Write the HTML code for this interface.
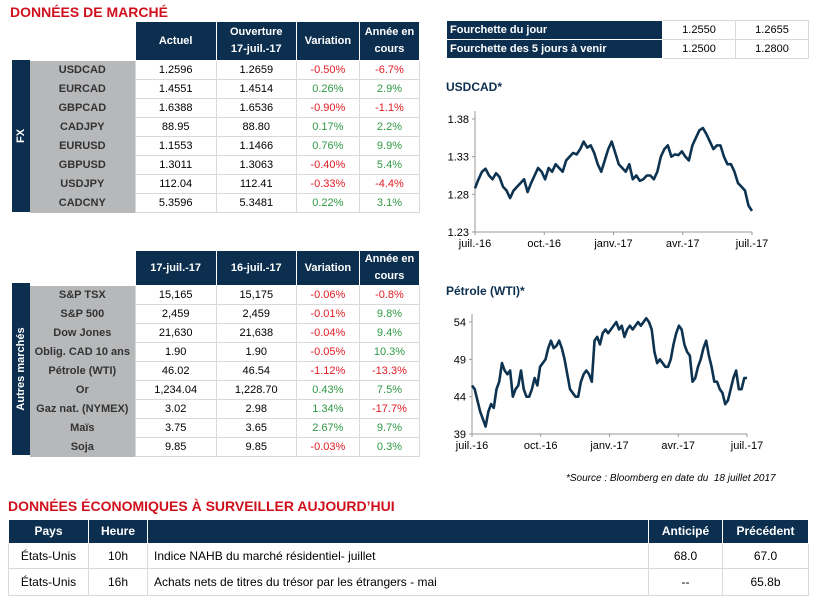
<!DOCTYPE html>
<html><head><meta charset="utf-8">
<style>
body{margin:0;width:816px;height:606px;background:#fff;font-family:"Liberation Sans",sans-serif;position:relative;overflow:hidden}
.abs{position:absolute}
table{border-collapse:collapse;table-layout:fixed;font-size:11px}
td{border:1px solid #d9d9d9;text-align:center;padding:0;height:18px}
th{background:#0c2f4f;color:#fff;font-weight:bold;border:1px solid #fff;font-size:11px;padding:0;line-height:17px}
.lab{background:#b7b8ba;color:#333;font-weight:bold;border:none}
.r{color:#e31b23}.g{color:#2f9a45}
.title{color:#d0101c;font-weight:bold;font-size:14px}
.strip{background:#0c2f4f;color:#fff;font-weight:bold;font-size:11px}
</style></head><body>
<div class="abs title" style="left:10px;top:4px">DONNÉES DE MARCHÉ</div>

<div class="abs strip" style="left:12px;top:60px;width:18px;height:152px"><div style="position:absolute;left:50%;top:50%;transform:translate(-50%,-50%) rotate(-90deg)">FX</div></div>
<table class="abs" style="left:30px;top:21px;width:390px">
<colgroup><col style="width:105px"><col style="width:81px"><col style="width:80px"><col style="width:63px"><col style="width:60px"></colgroup>
<tr style="height:39px"><th style="background:#fff;border:none"></th><th>Actuel</th><th>Ouverture<br>17-juil.-17</th><th>Variation</th><th>Année en<br>cours</th></tr>
<tr><td class="lab">USDCAD</td><td>1.2596</td><td>1.2659</td><td class="r">-0.50%</td><td class="r">-6.7%</td></tr>
<tr><td class="lab">EURCAD</td><td>1.4551</td><td>1.4514</td><td class="g">0.26%</td><td class="g">2.9%</td></tr>
<tr><td class="lab">GBPCAD</td><td>1.6388</td><td>1.6536</td><td class="r">-0.90%</td><td class="r">-1.1%</td></tr>
<tr><td class="lab">CADJPY</td><td>88.95</td><td>88.80</td><td class="g">0.17%</td><td class="g">2.2%</td></tr>
<tr><td class="lab">EURUSD</td><td>1.1553</td><td>1.1466</td><td class="g">0.76%</td><td class="g">9.9%</td></tr>
<tr><td class="lab">GBPUSD</td><td>1.3011</td><td>1.3063</td><td class="r">-0.40%</td><td class="g">5.4%</td></tr>
<tr><td class="lab">USDJPY</td><td>112.04</td><td>112.41</td><td class="r">-0.33%</td><td class="r">-4.4%</td></tr>
<tr><td class="lab">CADCNY</td><td>5.3596</td><td>5.3481</td><td class="g">0.22%</td><td class="g">3.1%</td></tr>
</table>

<div class="abs strip" style="left:12px;top:283px;width:18px;height:172px"><div style="position:absolute;left:50%;top:50%;transform:translate(-50%,-50%) rotate(-90deg);white-space:nowrap">Autres marchés</div></div>
<table class="abs" style="left:30px;top:250px;width:390px">
<colgroup><col style="width:105px"><col style="width:81px"><col style="width:80px"><col style="width:63px"><col style="width:60px"></colgroup>
<tr style="height:33px"><th style="background:#fff;border:none"></th><th>17-juil.-17</th><th>16-juil.-17</th><th>Variation</th><th>Année en<br>cours</th></tr>
<tr><td class="lab">S&amp;P TSX</td><td>15,165</td><td>15,175</td><td class="r">-0.06%</td><td class="r">-0.8%</td></tr>
<tr><td class="lab">S&amp;P 500</td><td>2,459</td><td>2,459</td><td class="r">-0.01%</td><td class="g">9.8%</td></tr>
<tr><td class="lab">Dow Jones</td><td>21,630</td><td>21,638</td><td class="r">-0.04%</td><td class="g">9.4%</td></tr>
<tr><td class="lab">Oblig. CAD 10 ans</td><td>1.90</td><td>1.90</td><td class="r">-0.05%</td><td class="g">10.3%</td></tr>
<tr><td class="lab">Pétrole (WTI)</td><td>46.02</td><td>46.54</td><td class="r">-1.12%</td><td class="r">-13.3%</td></tr>
<tr><td class="lab">Or</td><td>1,234.04</td><td>1,228.70</td><td class="g">0.43%</td><td class="g">7.5%</td></tr>
<tr><td class="lab">Gaz nat. (NYMEX)</td><td>3.02</td><td>2.98</td><td class="g">1.34%</td><td class="r">-17.7%</td></tr>
<tr><td class="lab">Maïs</td><td>3.75</td><td>3.65</td><td class="g">2.67%</td><td class="g">9.7%</td></tr>
<tr><td class="lab">Soja</td><td>9.85</td><td>9.85</td><td class="r">-0.03%</td><td class="g">0.3%</td></tr>
</table>

<table class="abs" style="left:446px;top:20px;width:362px">
<colgroup><col style="width:216px"><col style="width:73px"><col style="width:73px"></colgroup>
<tr><th style="text-align:left;padding-left:3px">Fourchette du jour</th><td>1.2550</td><td>1.2655</td></tr>
<tr><th style="text-align:left;padding-left:3px">Fourchette des 5 jours à venir</th><td>1.2500</td><td>1.2800</td></tr>
</table>

<div class="abs" style="left:446px;top:80px;font-weight:bold;font-size:12px;color:#0c2f4f">USDCAD*</div>
<svg class="abs" id="c1" style="left:430px;top:100px" width="380" height="160"></svg>
<div class="abs" style="left:446px;top:284px;font-weight:bold;font-size:12px;color:#0c2f4f">Pétrole (WTI)*</div>
<svg class="abs" id="c2" style="left:430px;top:305px" width="380" height="160"></svg>

<div class="abs" style="left:566px;top:473px;font-size:10px;font-style:italic">*Source : Bloomberg en date du &nbsp;18 juillet 2017</div>

<div class="abs title" style="left:8px;top:498px">DONNÉES ÉCONOMIQUES À SURVEILLER AUJOURD’HUI</div>
<table class="abs" style="left:8px;top:519px;width:800px;font-size:12px">
<colgroup><col style="width:80px"><col style="width:59px"><col style="width:501px"><col style="width:74px"><col style="width:86px"></colgroup>
<tr style="height:24px"><th style="font-size:12px">Pays</th><th style="font-size:12px">Heure</th><th></th><th style="font-size:12px">Anticipé</th><th style="font-size:12px">Précédent</th></tr>
<tr style="height:25px"><td>États-Unis</td><td>10h</td><td style="text-align:left;padding-left:6px">Indice NAHB du marché résidentiel- juillet</td><td>68.0</td><td>67.0</td></tr>
<tr style="height:27px"><td>États-Unis</td><td>16h</td><td style="text-align:left;padding-left:6px">Achats nets de titres du trésor par les étrangers - mai</td><td>--</td><td>65.8b</td></tr>
</table>

<script>
const usdTicks=[1.23,1.28,1.33,1.38];
const usdXLabels=["juil.-16","oct.-16","janv.-17","avr.-17","juil.-17"];
const usdValues=[1.288,1.300,1.310,1.314,1.305,1.300,1.308,1.303,1.290,1.285,1.275,1.285,1.290,1.295,1.300,1.283,1.295,1.305,1.315,1.310,1.300,1.315,1.310,1.320,1.315,1.310,1.325,1.330,1.335,1.333,1.340,1.350,1.342,1.345,1.335,1.320,1.310,1.325,1.340,1.350,1.335,1.320,1.315,1.310,1.320,1.300,1.305,1.298,1.300,1.305,1.305,1.300,1.310,1.330,1.340,1.345,1.330,1.333,1.332,1.337,1.330,1.325,1.345,1.355,1.365,1.368,1.360,1.350,1.340,1.345,1.345,1.330,1.320,1.320,1.310,1.295,1.290,1.285,1.265,1.258];
const oilTicks=[39,44,49,54];
const oilXLabels=["juil.-16","oct.-16","janv.-17","avr.-17","juil.-17"];
const oilValues=[45.5,45,43.5,42,41,40,42,43,42.5,45,46,48.5,47.5,47,47.5,44,45,45.5,47.5,45,44,44,45,46.5,45.5,48,48.5,49,50.5,51.5,50.5,50.8,51.5,50.5,49,47,45,44.5,44,44,46,47,47.5,47,46,51.5,52,51,52.5,53,52.5,53,53.5,54,53,53.5,52,53,53.5,53,53.5,54,53.5,54,54.5,54,53,50,48.5,49,48.5,48,48,49,51,52.5,53.5,53,51,50,49.5,46,46.5,48,49,50.5,51.5,49.5,48,46,46,45,44.5,43,43.5,45,46.5,47.5,45,45,46.5,46.5];
const NS="http://www.w3.org/2000/svg";
function mk(svg,tag,attrs){const e=document.createElementNS(NS,tag);for(const k in attrs)e.setAttribute(k,attrs[k]);svg.appendChild(e);return e;}
function draw(id,vals,ticks,xl,x0,x1,yTop,yBot){
  const svg=document.getElementById(id);
  const lo=ticks[0],hi=ticks[ticks.length-1];
  const ys=v=>yBot-(v-lo)/(hi-lo)*(yBot-yTop);
  const xs=i=>x0+i/(vals.length-1)*(x1-x0);
  let ax=mk(svg,'line',{x1:x0,y1:yTop-8,x2:x0,y2:yBot,stroke:'#999'});
  
  let bx=mk(svg,'line',{x1:x0,y1:yBot,x2:x1,y2:yBot,stroke:'#999'});
  
  ticks.forEach(t=>{const y=ys(t);
    mk(svg,'line',{x1:x0-3,y1:y,x2:x0,y2:y,stroke:'#999'});
    const tx=mk(svg,'text',{x:x0-6,y:y+4,'text-anchor':'end','font-size':11,'font-family':'Liberation Sans'});tx.textContent=t.toFixed(id=='c1'?2:0);
    });
  xl.forEach((l,i)=>{const x=x0+i/(xl.length-1)*(x1-x0);
    mk(svg,'line',{x1:x,y1:yBot,x2:x,y2:yBot+3,stroke:'#999'});
    const tx=mk(svg,'text',{x:x,y:yBot+15,'text-anchor':'middle','font-size':11,'font-family':'Liberation Sans'});tx.textContent=l;
    });
  const p=mk(svg,'polyline',{points:vals.map((v,i)=>xs(i)+','+ys(v)).join(' '),fill:'none',stroke:'#0d3350','stroke-width':2.6,'stroke-linejoin':'round'});
  
}
draw('c1',usdValues,usdTicks,usdXLabels,45,322,19,132);
draw('c2',oilValues,oilTicks,oilXLabels,42,317,17,129);
</script>
</body></html>
